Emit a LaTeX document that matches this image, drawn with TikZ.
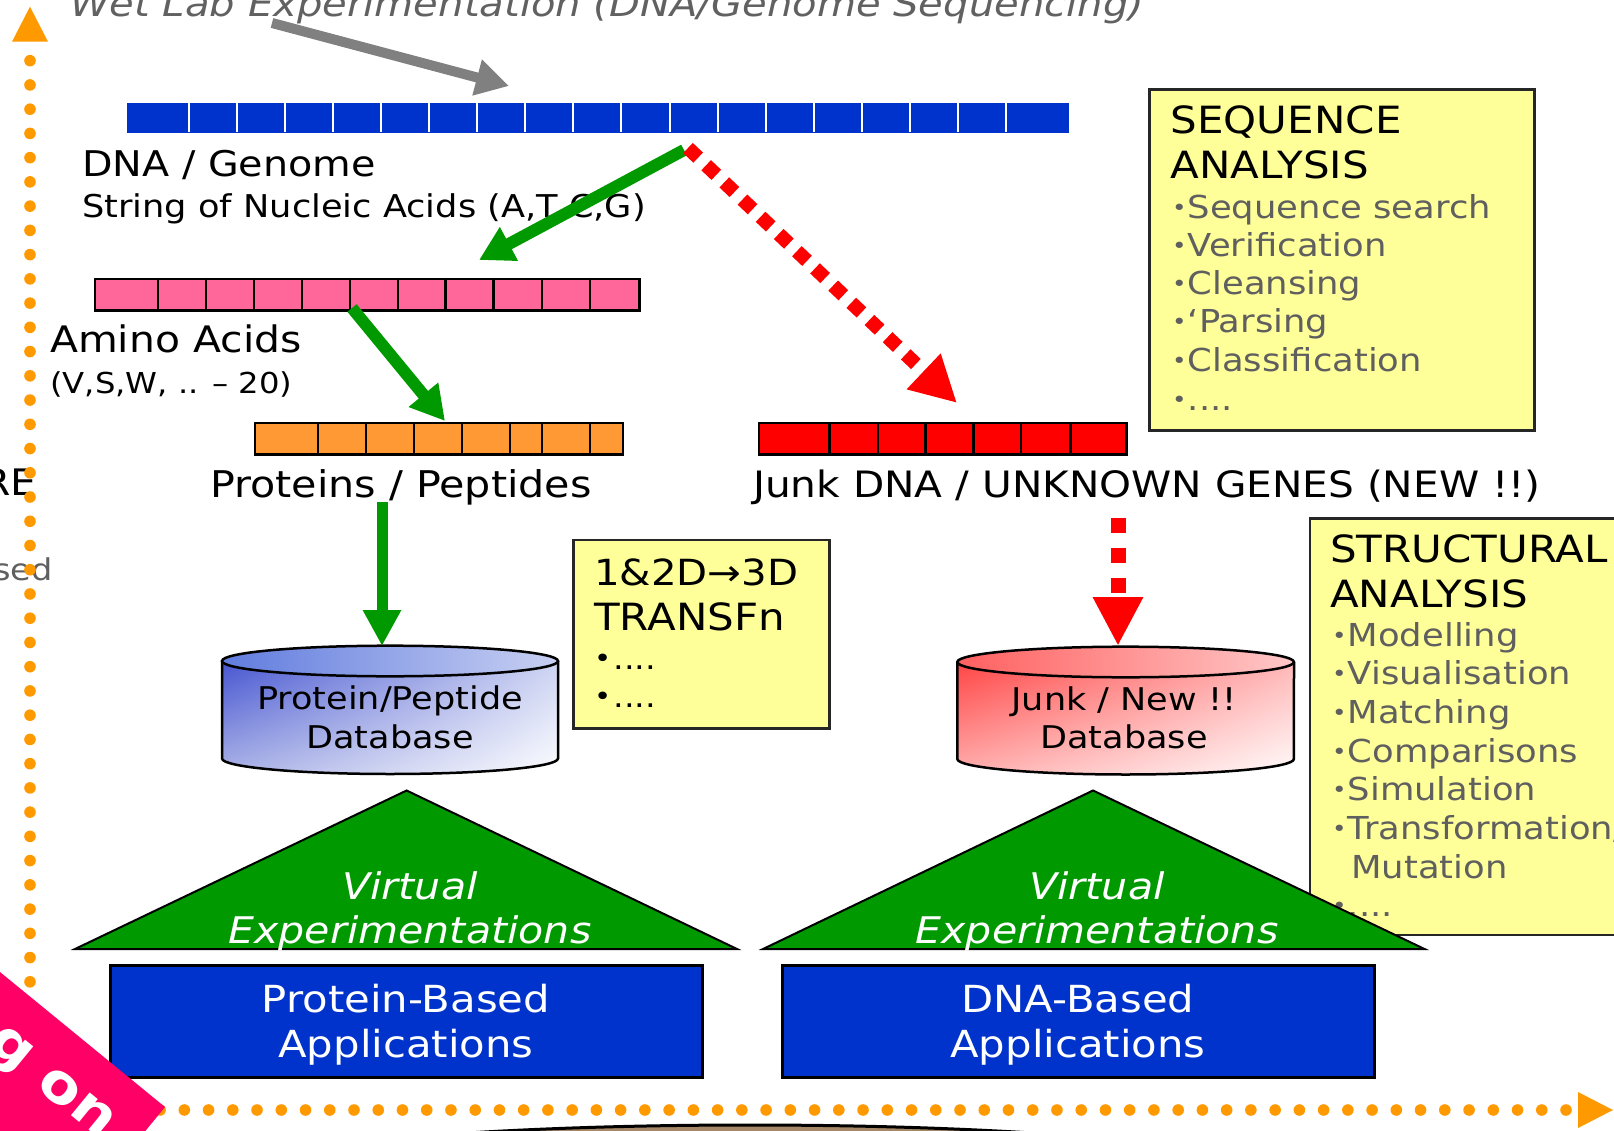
\documentclass[tikz,border=0pt]{standalone}
\usepackage{fontspec}
\setmainfont{DejaVu Sans}[FakeStretch=1.12]
\usetikzlibrary{arrows.meta,shadings}

\definecolor{dnablue}{HTML}{0033CC}
\definecolor{aapink}{HTML}{FF6699}
\definecolor{protorange}{HTML}{FF9933}
\definecolor{junkred}{HTML}{FF0000}
\definecolor{notey}{HTML}{FFFF99}
\definecolor{leafgreen}{HTML}{009900}
\definecolor{dotorange}{HTML}{FF9900}
\definecolor{arrowgray}{HTML}{808080}
\definecolor{itemgray}{HTML}{5F5F5F}
\definecolor{ribbonpink}{HTML}{FF0066}
\definecolor{clay}{HTML}{A68868}
% database gradients
\definecolor{pdbUL}{RGB}{52,68,204}
\definecolor{pdbUR}{RGB}{196,204,240}
\definecolor{pdbLL}{RGB}{176,184,232}
\definecolor{pdbTopL}{RGB}{96,124,222}
\definecolor{pdbTopR}{RGB}{200,208,242}
\definecolor{jdbUL}{RGB}{255,48,48}
\definecolor{jdbUR}{RGB}{255,170,170}
\definecolor{jdbLL}{RGB}{255,180,180}
\definecolor{jdbTopL}{RGB}{255,96,96}
\definecolor{jdbTopR}{RGB}{255,200,200}

\newcommand{\fsz}[1]{\fontsize{#1}{#1}\selectfont}
\newcommand{\smallbul}{\raisebox{3pt}{\fsz{22}•}\kern1pt}
\newcommand{\bigbul}{\raisebox{2pt}{\fsz{26}•}\kern2pt}

\begin{document}
\begin{tikzpicture}[x=1pt,y=-1pt,
  txt/.style={anchor=base west, inner sep=0pt},
  ctxt/.style={anchor=base, inner sep=0pt},
  big/.style={font=\fsz{37.5}},
  lbl/.style={font=\fsz{36.5}},
  mid/.style={font=\fsz{31.4}},
  itemtxt/.style={font=\fsz{31.6}, text=itemgray},
  cyltxt/.style={font=\fsz{31.3}},
  apptxt/.style={font=\fsz{37.3}, text=white},
  virt/.style={font=\fsz{36.7}\itshape, text=white},
  note/.style={fill=notey, draw=black!85, line width=2.5pt},
  barbox/.style={draw=black, line width=2.5pt, inner sep=0pt, anchor=north west},
  cellline/.style={line width=2.5pt},
  greenarrow/.style={draw=leafgreen, line width=12pt, -{Triangle[width=36pt,length=34pt]}},
  redsquares/.style={draw=junkred, line width=14pt, dash pattern=on 14pt off 11pt, -{Triangle[width=46pt,length=46pt]}},
  grayarrow/.style={draw=arrowgray, line width=10pt, -{Triangle[width=35pt,length=33pt]}},
  axisdot/.style={fill=dotorange},
  appbox/.style={fill=dnablue, draw=black, line width=3pt},
  pyramid/.style={fill=leafgreen, draw=black, line width=2pt},
]
\useasboundingbox (0,0) rectangle (1614,1131);
\clip (0,0) rectangle (1614,1131);

% ---------- heading and input arrow ----------
\node[txt, font=\fsz{35.8}\itshape, text=black!62] (title) at (70,17)
  {Wet Lab Experimentation (DNA/Genome Sequencing)};
\coordinate (wetA) at (272,23);
\coordinate (wetB) at (509,86);
\draw[grayarrow] (wetA) -- (wetB);

% ---------- DNA strand ----------
\node[fill=dnablue, inner sep=0pt, minimum width=941.8pt, minimum height=29.5pt,
      anchor=north west] (dna) at (126.9,103) {};
\foreach \k in {0,...,17}
  \draw[white, line width=2pt] ({188.5+48.1*\k},103) -- ({188.5+48.1*\k},132.5);
\node[txt, font=\fsz{35.4}] (dnalbl) at (82,177) {DNA / Genome};
\node[txt, mid] (dnasub) at (82,218) {String of Nucleic Acids (A,T,C,G)};

% ---------- amino acid strand ----------
\node[barbox, fill=aapink, minimum width=544.2pt, minimum height=31.5pt] (amino) at (93.9,277.7) {};
\foreach \x in {157.9,205.8,253.8,301.8,349.8,397.8,445.7,493.7,542.1,590.1}
  \draw[cellline] (\x,277.7) -- (\x,309.2);
\node[txt, lbl] (aalbl) at (50,353) {Amino Acids};
\node[txt, font=\fsz{28.8}] (aasub) at (50,393) {(V,S,W, .. – 20)};

% ---------- protein strand ----------
\node[barbox, fill=protorange, minimum width=367.9pt, minimum height=31.5pt] (prot) at (253.8,421.8) {};
\foreach \x in {318.2,366.2,414.2,462.2,510.1,542.1,590.1}
  \draw[cellline] (\x,421.8) -- (\x,453.3);
\node[txt, font=\fsz{36.8}] (protlbl) at (210,497) {Proteins / Peptides};

% ---------- junk strand ----------
\node[barbox, fill=junkred, minimum width=367.4pt, minimum height=31.5pt] (junk) at (757.6,421.8) {};
\foreach \x in {829.6,878,925.3,973.7,1021,1070.5}
  \draw[cellline] (\x,421.8) -- (\x,453.3);
\node[txt, font=\fsz{36.3}] (junklbl) at (753,497) {Junk DNA / UNKNOWN GENES (NEW !!)};

% ---------- cut-off side labels ----------
\node[anchor=base east, inner sep=0pt, lbl] (sideRE) at (37,495) {RE};
\node[anchor=base east, inner sep=0pt, font=\fsz{30}, text=itemgray] (sidesed) at (53,580) {sed};

% ---------- transcription arrows ----------
\coordinate (g1s) at (684,150);
\coordinate (g1e) at (479,260);
\draw[greenarrow] (g1s) -- (g1e);
\coordinate (g2s) at (352,308);
\coordinate (g2e) at (445,421);
\draw[greenarrow] (g2s) -- (g2e);
\coordinate (r1s) at (688,148);
\coordinate (r1e) at (957,403);
\draw[redsquares] (r1s) -- (r1e);

% ---------- sequence analysis note ----------
\draw[note] (1149.5,89.5) rectangle (1534.3,430.5);
\node[txt, big] (seqt1) at (1170.5,133.5) {SEQUENCE};
\node[txt, big] (seqt2) at (1170.5,178.5) {ANALYSIS};
\node[txt, itemtxt] (seqi1) at (1172,218.5) {\smallbul Sequence search};
\node[txt, itemtxt] (seqi2) at (1172,256.7) {\smallbul Verification};
\node[txt, itemtxt] (seqi3) at (1172,295) {\smallbul Cleansing};
\node[txt, itemtxt] (seqi4) at (1172,333) {\smallbul ‘Parsing};
\node[txt, itemtxt] (seqi5) at (1172,371.5) {\smallbul Classification};
\node[txt, itemtxt] (seqi6) at (1172,410) {\smallbul ....};

% ---------- transformation note ----------
\draw[note] (573.3,540) rectangle (829.3,728.3);
\node[txt, font=\fsz{36}] (tr1) at (594,585) {1\&2D→3D};
\node[txt, big] (tr2) at (594,630) {TRANSFn};
\node[txt, font=\fsz{30}] (tr3) at (594,669) {\bigbul ....};
\node[txt, font=\fsz{30}] (tr4) at (594,707) {\bigbul ....};

% ---------- structural analysis note ----------
\draw[note] (1310,518.3) rectangle (1650,935);
\node[txt, big] (stt1) at (1330,562) {STRUCTURAL};
\node[txt, big] (stt2) at (1330,607) {ANALYSIS};
\node[txt, itemtxt] (sti1) at (1332,646) {\smallbul Modelling};
\node[txt, itemtxt] (sti2) at (1332,684.7) {\smallbul Visualisation};
\node[txt, itemtxt] (sti3) at (1332,723.4) {\smallbul Matching};
\node[txt, itemtxt] (sti4) at (1332,762.1) {\smallbul Comparisons};
\node[txt, itemtxt] (sti5) at (1332,800.8) {\smallbul Simulation};
\node[txt, itemtxt] (sti6) at (1332,839.5) {\smallbul Transformation/};
\node[txt, itemtxt] (sti7) at (1351,878.2) {Mutation};
\node[txt, itemtxt] (sti8) at (1332,916.9) {\smallbul ....};

% ---------- databases ----------
\begin{scope}
  \clip (222,661) -- (222,758.5)
     arc[start angle=180, end angle=360, x radius=168pt, y radius=15.5pt]
     -- (558,661) arc[start angle=0, end angle=180, x radius=168pt, y radius=15.3pt] -- cycle;
  \shade[upper left=pdbUL, upper right=pdbUR, lower left=pdbLL, lower right=white]
     (222,640) rectangle (558,780);
\end{scope}
\draw[line width=2.5pt] (222,661) -- (222,758.5)
     arc[start angle=180, end angle=360, x radius=168pt, y radius=15.5pt] -- (558,661);
\shade[draw=black, line width=2.5pt, left color=pdbTopL, right color=pdbTopR]
     (390,661) ellipse[x radius=168pt, y radius=15.3pt];
\node[ctxt, cyltxt] (pdb1) at (390,709) {Protein/Peptide};
\node[ctxt, cyltxt] (pdb2) at (390,748) {Database};

\begin{scope}
  \clip (957.3,662) -- (957.3,759)
     arc[start angle=180, end angle=360, x radius=168.3pt, y radius=15.5pt]
     -- (1294,662) arc[start angle=0, end angle=180, x radius=168.3pt, y radius=15.3pt] -- cycle;
  \shade[upper left=jdbUL, upper right=jdbUR, lower left=jdbLL, lower right=white]
     (957.3,640) rectangle (1294,780);
\end{scope}
\draw[line width=2.5pt] (957.3,662) -- (957.3,759)
     arc[start angle=180, end angle=360, x radius=168.3pt, y radius=15.5pt] -- (1294,662);
\shade[draw=black, line width=2.5pt, left color=jdbTopL, right color=jdbTopR]
     (1125.6,662) ellipse[x radius=168.3pt, y radius=15.3pt];
\node[ctxt, cyltxt] (jdb1) at (1124,710) {Junk / New !!};
\node[ctxt, cyltxt] (jdb2) at (1124,748) {Database};

% ---------- arrows into the databases ----------
\coordinate (g3s) at (382,502);
\coordinate (g3e) at (382,646);
\draw[draw=leafgreen, line width=11pt, -{Triangle[width=36pt,length=36pt]}] (g3s) -- (g3e);
\coordinate (r2s) at (1118,518);
\coordinate (r2e) at (1118,646);
\draw[draw=junkred, line width=15pt, dash pattern=on 15pt off 15pt, -{Triangle[width=47pt,length=49pt]}] (r2s) -- (r2e);

% ---------- virtual experimentation pyramids ----------
\draw[pyramid] (406.6,790.5) -- (737,949) -- (75,949) -- cycle;
\node[ctxt, virt] (v1a) at (410,899) {Virtual};
\node[ctxt, virt] (v1b) at (410,943) {Experimentations};
\draw[pyramid] (1093,790.5) -- (1424.5,949) -- (763,949) -- cycle;
\node[ctxt, virt] (v2a) at (1097,899) {Virtual};
\node[ctxt, virt] (v2b) at (1097,943) {Experimentations};

% ---------- application boxes ----------
\draw[appbox] (110,965.5) rectangle (702.5,1077.5);
\node[ctxt, apptxt] (pa1) at (406,1012) {Protein-Based};
\node[ctxt, apptxt] (pa2) at (406,1057) {Applications};
\draw[appbox] (782,965.5) rectangle (1374,1077.5);
\node[ctxt, apptxt] (da1) at (1078,1012) {DNA-Based};
\node[ctxt, apptxt] (da2) at (1078,1057) {Applications};

% ---------- dotted axes ----------
\coordinate (ytip) at (30,6.7);
\coordinate (xtip) at (1613,1110);
\foreach \k in {0,...,38}
  \fill[axisdot] (30,{60.7+24.24*\k}) circle[radius=5.8pt];
\foreach \k in {0,...,58}
  \fill[axisdot] ({1566-24.24*\k},1110) circle[radius=5.8pt];
\fill[axisdot] (ytip) -- ++(18,35) -- ++(-36,0) -- cycle;
\fill[axisdot] (xtip) -- ++(-35,-18) -- ++(0,36) -- cycle;

% ---------- bottom platform ----------
\draw[fill=clay, line width=3pt] (750,1175) ellipse[x radius=520pt, y radius=50pt];

% ---------- corner ribbon ----------
\fill[ribbonpink] (-77.4,908.7) -- (165,1107) -- (70,1223) -- (-172.4,1024.8) -- cycle;
\node[inner sep=0pt, rotate=-39.3, font=\fsz{54}\bfseries, text=white] (ribbontxt) at (48.6,1085.3) {g on};

\end{tikzpicture}
\end{document}
